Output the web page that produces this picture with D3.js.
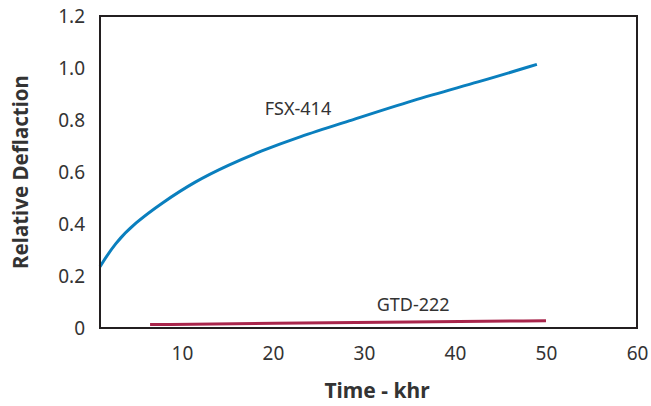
<!DOCTYPE html>
<html>
<head>
<meta charset="utf-8">
<script src="https://cdn.jsdelivr.net/npm/d3@7"></script>
<style>
  body { margin: 0; background: #fff; }
  text { font-family: "Noto Sans", "Open Sans", sans-serif; fill: #333; }
  .axis path, .axis line { display: none; }
</style>
</head>
<body>
<div id="chart"></div>
<script>
// FSX-414 curve (time khr, relative deflection)
var fsxTime = [1, 2.65, 4.85, 7.8, 11.4, 15.1, 18.8, 22.4, 28.1, 35.4, 42.7, 49];
var fsxDefl = [0.236, 0.327, 0.404, 0.481, 0.563, 0.627, 0.682, 0.73, 0.793, 0.877, 0.947, 1.014];

// GTD-222 line
var gtdTime = [6.5, 20, 35, 50];
var gtdDefl = [0.013, 0.018, 0.023, 0.028];

var xTicks = [10, 20, 30, 40, 50, 60];
var yTicks = [0, 0.2, 0.4, 0.6, 0.8, 1.0, 1.2];

function init() {
  var margin = {top: 16, right: 14, bottom: 78, left: 100},
      width = 651,
      height = 406,
      innerWidth = width - margin.left - margin.right,
      innerHeight = height - margin.top - margin.bottom;

  var svg = d3.select("#chart").append("svg")
    .attr("width", width)
    .attr("height", height);

  var g = svg.append("g")
    .attr("transform", `translate(${margin.left}, ${margin.top})`);

  var x = d3.scaleLinear().domain([1, 60]).range([0, innerWidth]);
  var y = d3.scaleLinear().domain([0, 1.2]).range([innerHeight, 0]);

  // x axis labels
  g.append("g")
    .attr("class", "axis")
    .attr("transform", `translate(0, ${innerHeight})`)
    .call(d3.axisBottom(x).tickValues(xTicks).tickSize(0).tickPadding(19))
    .selectAll("text")
    .style("font-size", "19px")
    .attr("fill", "#333");

  // y axis labels
  g.append("g")
    .attr("class", "axis")
    .call(d3.axisLeft(y).tickValues(yTicks).tickSize(0).tickPadding(15)
      .tickFormat(d => d === 0 ? "0" : d3.format(".1f")(d)))
    .selectAll("text")
    .style("font-size", "19px")
    .attr("fill", "#333");

  var line = d3.line()
    .x(d => x(d[0]))
    .y(d => y(d[1]))
    .curve(d3.curveBasis);

  g.append("path")
    .datum(gtdTime.map((t, i) => [t, gtdDefl[i]]))
    .attr("d", line)
    .attr("fill", "none")
    .attr("stroke", "#a8254b")
    .attr("stroke-width", 3);

  g.append("path")
    .datum(fsxTime.map((t, i) => [t, fsxDefl[i]]))
    .attr("d", line)
    .attr("fill", "none")
    .attr("stroke", "#0a7fbe")
    .attr("stroke-width", 3);

  // plot frame
  g.append("rect")
    .attr("width", innerWidth)
    .attr("height", innerHeight)
    .attr("fill", "none")
    .attr("stroke", "#231f20")
    .attr("stroke-width", 2);

  // series labels
  g.append("text")
    .attr("x", x(19.1))
    .attr("y", y(0.82))
    .style("font-size", "18px")
    .text("FSX-414");

  g.append("text")
    .attr("x", x(31.4))
    .attr("y", y(0.065))
    .style("font-size", "18px")
    .text("GTD-222");

  // axis titles
  svg.append("text")
    .attr("x", 377)
    .attr("y", 398)
    .attr("text-anchor", "middle")
    .style("font-size", "21px")
    .style("font-weight", "bold")
    .text("Time - khr");

  svg.append("text")
    .attr("transform", "translate(28, 172) rotate(-90)")
    .attr("text-anchor", "middle")
    .style("font-size", "20.5px")
    .style("font-weight", "bold")
    .text("Relative Deflaction");
}

window.onload = init;
</script>
</body>
</html>
